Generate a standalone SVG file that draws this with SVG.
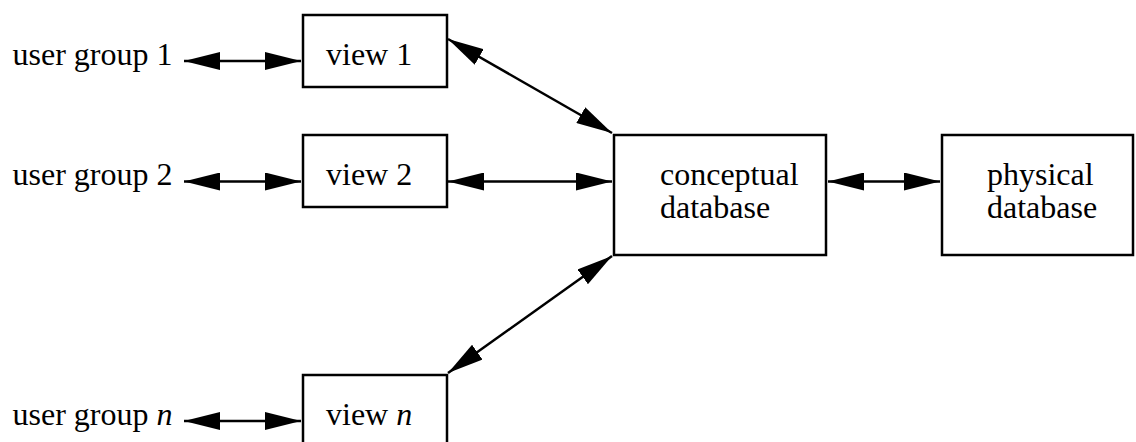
<svg xmlns="http://www.w3.org/2000/svg" width="1136" height="442" viewBox="0 0 1136 442">
<style>
text{font-family:"Liberation Serif","Times New Roman",serif;font-size:32px;fill:#000}
.box{fill:#fff;stroke:#000;stroke-width:2.5}
.con{stroke:#000;stroke-width:2.5;fill:none;marker-start:url(#ah);marker-end:url(#ah)}
</style>
<defs>
<marker id="ah" markerUnits="userSpaceOnUse" markerWidth="36" markerHeight="18" refX="36" refY="9" orient="auto-start-reverse" viewBox="0 0 36 18">
<path d="M0,0 L36,9 L0,18 z" fill="#000"/>
</marker>
</defs>
<rect width="1136" height="442" fill="#fff"/>
<g id="ug1"><text x="12.5" y="65">user group 1</text></g>
<g id="ug2"><text x="12.5" y="185">user group 2</text></g>
<g id="ugn"><text x="12.5" y="425">user group <tspan font-style="italic">n</tspan></text></g>
<g id="view1"><rect class="box" x="303" y="15" width="144" height="72"/><text x="326" y="65">view 1</text></g>
<g id="view2"><rect class="box" x="303" y="135" width="144" height="72"/><text x="326" y="185">view 2</text></g>
<g id="viewn"><rect class="box" x="303" y="375" width="144" height="80"/><text x="326" y="425">view <tspan font-style="italic">n</tspan></text></g>
<g id="conceptual"><rect class="box" x="614" y="135" width="212" height="120"/><text x="660" y="185">conceptual</text><text x="660" y="218">database</text></g>
<g id="physical"><rect class="box" x="942" y="135" width="191" height="120"/><text x="987" y="185">physical</text><text x="987" y="218">database</text></g>
<g id="connectors">
<line class="con" x1="184" y1="61" x2="301" y2="61"/>
<line class="con" x1="184" y1="181.5" x2="301" y2="181.5"/>
<line class="con" x1="184" y1="421" x2="301" y2="421"/>
<line class="con" x1="448" y1="39" x2="612" y2="133"/>
<line class="con" x1="448" y1="181.5" x2="612" y2="181.5"/>
<line class="con" x1="448" y1="373" x2="612" y2="256"/>
<line class="con" x1="828" y1="181.5" x2="940" y2="181.5"/>
</g>
</svg>
